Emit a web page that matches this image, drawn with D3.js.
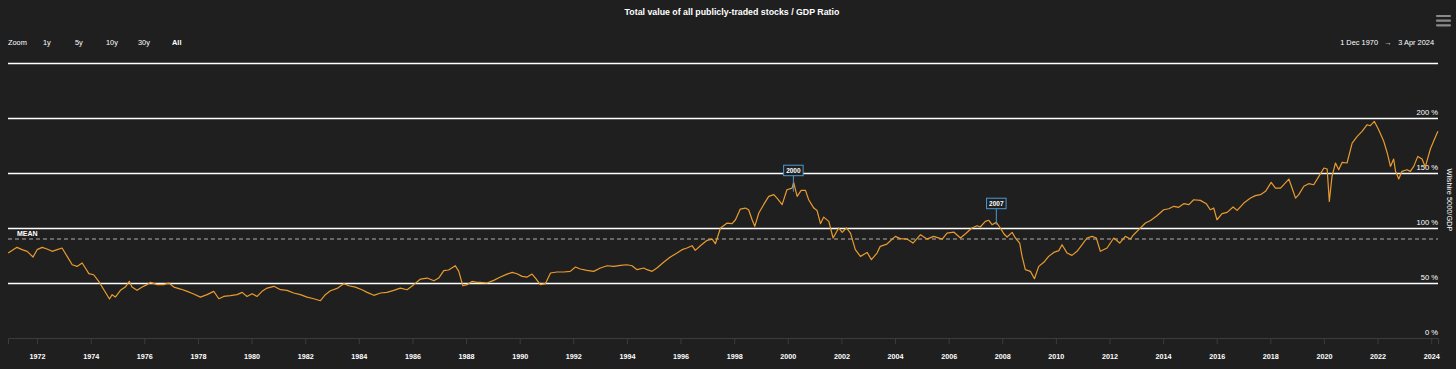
<!DOCTYPE html>
<html>
<head>
<meta charset="utf-8">
<script src="https://cdn.jsdelivr.net/npm/d3@7"></script>
<style>
  html, body { margin: 0; padding: 0; background: #1f1f1f; }
  svg { display: block; font-family: "Liberation Sans", Arial, sans-serif; }
</style>
</head>
<body>
<div id="chart"></div>
<script>
// data (decimal years, ratio in %)
var years = [
  1970.92, 1971.25, 1971.44, 1971.63, 1971.85, 1972.00, 1972.19, 1972.37, 1972.56, 1972.75,
  1972.93, 1973.12, 1973.31, 1973.49, 1973.68, 1973.80, 1973.93, 1974.11, 1974.30, 1974.49,
  1974.70, 1974.80, 1974.92, 1975.11, 1975.29, 1975.44, 1975.54, 1975.73, 1975.92, 1976.10,
  1976.23, 1976.48, 1976.72, 1976.91, 1977.10, 1977.35, 1977.60, 1977.84, 1978.09, 1978.34,
  1978.59, 1978.78, 1978.96, 1979.21, 1979.46, 1979.65, 1979.83, 1980.02, 1980.21, 1980.39,
  1980.58, 1980.83, 1981.08, 1981.32, 1981.57, 1981.82, 1982.07, 1982.32, 1982.57, 1982.75,
  1982.94, 1983.19, 1983.44, 1983.63, 1983.87, 1984.12, 1984.31, 1984.56, 1984.81, 1985.05,
  1985.30, 1985.55, 1985.80, 1986.05, 1986.30, 1986.55, 1986.80, 1986.98, 1987.17, 1987.35,
  1987.60, 1987.73, 1987.88, 1988.04, 1988.23, 1988.41,
  1988.53, 1988.78, 1989.03, 1989.28, 1989.53, 1989.72, 1989.90, 1990.09, 1990.28, 1990.46,
  1990.59, 1990.77, 1990.96, 1991.15, 1991.39, 1991.64, 1991.89, 1992.08, 1992.26, 1992.51,
  1992.76, 1993.01, 1993.26, 1993.51, 1993.76, 1994.00, 1994.19, 1994.38, 1994.63, 1994.75,
  1994.94, 1995.12, 1995.37, 1995.62, 1995.87, 1996.06, 1996.24, 1996.43, 1996.55, 1996.74,
  1996.99, 1997.18, 1997.30, 1997.49, 1997.74, 1997.92, 1998.05, 1998.23, 1998.42, 1998.54,
  1998.67, 1998.77, 1998.92, 1999.10, 1999.29, 1999.48, 1999.60, 1999.79, 1999.97, 2000.16,
  2000.22, 2000.35, 2000.50, 2000.66, 2000.78, 2000.97, 2001.09, 2001.22, 2001.34, 2001.53,
  2001.69, 2001.90, 2002.03, 2002.19, 2002.34, 2002.52, 2002.71, 2002.96, 2003.12, 2003.33,
  2003.45, 2003.70, 2004.01, 2004.20, 2004.45, 2004.67, 2004.95, 2005.19, 2005.44, 2005.76,
  2005.94, 2006.19, 2006.44,
  2006.63, 2006.87, 2007.06, 2007.18, 2007.37, 2007.50, 2007.62, 2007.78, 2007.93, 2008.06,
  2008.18, 2008.37, 2008.49, 2008.65, 2008.74, 2008.86, 2009.05, 2009.20, 2009.36, 2009.55,
  2009.73, 2009.92, 2010.11, 2010.23, 2010.42, 2010.60, 2010.79, 2010.98, 2011.16, 2011.35,
  2011.51, 2011.66, 2011.91, 2012.16, 2012.38, 2012.59, 2012.78, 2012.90, 2013.09, 2013.34,
  2013.53, 2013.77, 2014.02, 2014.21, 2014.40, 2014.58, 2014.77, 2014.96, 2015.14, 2015.39,
  2015.61, 2015.76, 2015.89, 2016.01, 2016.20, 2016.39, 2016.61, 2016.76, 2017.01, 2017.26,
  2017.44, 2017.63, 2017.82, 2018.03, 2018.19, 2018.38, 2018.69, 2018.81, 2018.94, 2019.06,
  2019.25, 2019.43, 2019.62, 2019.81, 2020.00, 2020.12, 2020.20, 2020.30, 2020.43, 2020.55,
  2020.68, 2020.86, 2021.05, 2021.24, 2021.42, 2021.61, 2021.73, 2021.88, 2022.04, 2022.23,
  2022.36, 2022.48, 2022.60, 2022.67, 2022.79, 2022.91, 2023.10, 2023.22, 2023.35, 2023.50,
  2023.66, 2023.78, 2023.97, 2024.09, 2024.25
];
var ratio = [
  77.2, 82.4, 80.3, 78.8, 73.6, 80.3, 82.4, 80.9, 78.8, 80.3,
  81.8, 74.2, 66.6, 65.1, 68.2, 63.6, 58.5, 57.5, 51.5, 43.9,
  35.4, 39.4, 37.2, 43.3, 46.3, 51.5, 46.3, 43.3, 46.3, 48.5,
  50.6, 48.5, 48.5, 50.0, 46.3, 44.5, 42.4, 40.0, 37.2, 39.4,
  42.4, 35.7, 37.8, 38.5, 39.4, 41.5, 37.8, 40.3, 37.8, 42.4,
  45.4, 47.0, 43.9, 43.3, 40.9, 39.4, 37.2, 35.7, 33.9, 39.4,
  43.0, 45.1, 49.4, 47.5, 46.3, 43.9, 41.5, 38.8, 40.9, 41.5,
  43.3, 45.4, 43.9, 48.5, 53.6, 54.5, 52.1, 54.5, 61.2, 61.8,
  65.7, 60.6, 47.5, 48.5, 51.5, 50.6,
  50.6, 50.0, 52.4, 55.4, 58.1, 59.7, 58.4, 56.0, 55.4, 58.1,
  54.5, 48.5, 49.4, 59.1, 60.0, 60.0, 60.6, 64.5, 62.7, 61.5,
  60.6, 63.6, 65.7, 65.1, 66.0, 66.6, 65.7, 62.1, 63.6, 62.1,
  60.6, 63.6, 68.8, 73.6, 77.2, 80.3, 81.8, 83.9, 79.7, 83.9,
  88.8, 89.9, 85.7, 100.0, 104.5, 103.9, 107.5, 117.2, 118.1, 116.6,
  107.5, 101.5, 113.6, 121.2, 128.8, 130.3, 127.2, 121.2, 134.8, 136.3,
  141.5, 128.8, 134.2, 134.2, 125.7, 118.1, 116.0, 103.9, 109.9, 106.0,
  90.9, 100.0, 96.0, 100.0, 95.4, 80.3, 74.2, 77.8, 71.2, 77.2,
  83.3, 85.4, 92.4, 90.3, 89.9, 86.3, 93.9, 89.9, 92.4, 89.9,
  95.4, 96.3, 90.9,
  94.8, 100.0, 102.1, 100.9, 106.0, 107.0, 103.0, 105.1, 100.0, 94.8,
  91.8, 96.0, 90.9, 86.3, 74.2, 62.1, 60.6, 53.9, 65.1, 68.8,
  74.2, 77.8, 79.4, 84.8, 77.2, 75.1, 78.8, 84.8, 90.9, 92.4,
  90.9, 78.8, 81.8, 90.9, 86.3, 92.4, 90.0, 93.9, 98.5, 104.5,
  106.9, 111.2, 116.6, 117.5, 119.7, 118.8, 122.1, 121.2, 125.7, 125.1,
  122.1, 116.6, 118.1, 107.5, 113.0, 114.2, 119.1, 116.0, 122.7, 127.2,
  129.4, 130.3, 133.3, 141.5, 136.3, 136.3, 144.5, 136.3, 127.2, 130.3,
  137.9, 140.3, 139.3, 146.9, 154.5, 153.6, 124.2, 146.9, 159.1, 153.0,
  159.7, 159.1, 177.2, 183.3, 187.8, 193.9, 193.0, 196.9, 189.4, 178.8,
  168.2, 156.0, 162.7, 151.5, 144.5, 151.5, 153.0, 151.5, 156.0, 165.1,
  162.7, 155.5, 171.8, 178.8, 187.9
];

var yTicks = [0, 50, 100, 150, 200, 250];
var yLabels = [0, 50, 100, 150, 200];
var meanValue = 90;
var flagYears = [2000.21, 2007.78];
var flagValues = [133, 103];
var flagLabels = ["2000", "2007"];
var rangeButtons = ["1y", "5y", "10y", "30y", "All"];

var W = 1456, H = 369;
var plot = {left: 8, right: 1438, top: 63, bottom: 338};

function yearToDate(y) {
  var yr = Math.floor(y);
  var a = Date.UTC(yr, 0, 1), b = Date.UTC(yr + 1, 0, 1);
  return new Date(a + (y - yr) * (b - a));
}

var data = years.map(function(y, i) { return {date: yearToDate(y), value: ratio[i]}; });

var x = d3.scaleUtc()
    .domain([new Date(Date.UTC(1970, 11, 1)), new Date(Date.UTC(2024, 3, 3))])
    .range([plot.left, plot.right]);
var y = d3.scaleLinear().domain([0, 250]).range([plot.bottom, plot.top]);

var svg = d3.select("#chart").append("svg")
    .attr("width", W)
    .attr("height", H);

svg.append("rect").attr("width", W).attr("height", H).attr("fill", "#1f1f1f");

// title
svg.append("text")
    .attr("x", 732).attr("y", 15)
    .attr("text-anchor", "middle")
    .attr("fill", "#ffffff")
    .style("font-size", "8.8px")
    .style("font-weight", "bold")
    .text("Total value of all publicly-traded stocks / GDP Ratio");

// hamburger menu
[16, 20.7, 25.3].forEach(function(yy) {
  svg.append("line")
    .attr("x1", 1437).attr("x2", 1450).attr("y1", yy).attr("y2", yy)
    .attr("stroke", "#8a8a8a").attr("stroke-width", 2.2).attr("stroke-linecap", "round");
});

// range selector
svg.append("text").attr("x", 8).attr("y", 45)
    .attr("fill", "#ffffff").style("font-size", "7.4px").text("Zoom");
var btnX = [43, 75, 106, 138, 172];
rangeButtons.forEach(function(b, i) {
  svg.append("text").attr("x", btnX[i]).attr("y", 45)
    .attr("fill", "#ffffff")
    .style("font-size", "7.4px")
    .style("font-weight", b == "All" ? "bold" : "normal")
    .text(b);
});

// date range
svg.append("text").attr("x", 1378).attr("y", 44.5).attr("text-anchor", "end")
    .attr("fill", "#ffffff").style("font-size", "7.4px").text("1 Dec 1970");
svg.append("text").attr("x", 1388).attr("y", 44.5).attr("text-anchor", "middle")
    .attr("fill", "#ffffff").style("font-size", "7.4px").text("\u2192");
svg.append("text").attr("x", 1434).attr("y", 44.5).attr("text-anchor", "end")
    .attr("fill", "#ffffff").style("font-size", "7.4px").text("3 Apr 2024");

// grid lines
svg.selectAll(".grid")
    .data(yTicks.filter(function(d) { return d > 0; }))
    .enter().append("line")
    .attr("class", "grid")
    .attr("x1", plot.left).attr("x2", plot.right)
    .attr("y1", function(d) { return Math.round(y(d)) + 0.5; })
    .attr("y2", function(d) { return Math.round(y(d)) + 0.5; })
    .attr("stroke", "#ffffff")
    .attr("stroke-width", 1.4);

// y labels
svg.selectAll(".ylab")
    .data(yLabels)
    .enter().append("text")
    .attr("class", "ylab")
    .attr("x", plot.right)
    .attr("y", function(d) { return y(d) - 3; })
    .attr("text-anchor", "end")
    .attr("fill", "#ffffff")
    .style("font-size", "7.6px")
    .text(function(d) { return d + " %"; });

// axis title
svg.append("text")
    .attr("transform", "translate(1447,200) rotate(90)")
    .attr("text-anchor", "middle")
    .attr("fill", "#ffffff")
    .style("font-size", "7.4px")
    .text("Wilshire 5000/GDP");

// x axis
var xAxis = svg.append("g")
    .attr("transform", "translate(0," + plot.bottom + ")")
    .call(d3.axisBottom(x)
      .ticks(d3.utcYear.every(2))
      .tickFormat(d3.utcFormat("%Y"))
      .tickSize(6)
      .tickPadding(10));
xAxis.select(".domain").attr("stroke", "#3c3c3c");
xAxis.selectAll(".tick line").attr("stroke", "#3c3c3c");
xAxis.selectAll(".tick text")
    .attr("fill", "#ffffff")
    .style("font-size", "7.2px")
    .style("font-weight", "bold")
    .style("font-family", "'Liberation Sans', Arial, sans-serif");

// mean line
svg.append("line")
    .attr("x1", plot.left).attr("x2", plot.right)
    .attr("y1", y(meanValue)).attr("y2", y(meanValue))
    .attr("stroke", "#b0b0b0")
    .attr("stroke-width", 1)
    .attr("stroke-dasharray", "4,3");
svg.append("text")
    .attr("x", 17).attr("y", y(meanValue) - 3.5)
    .attr("fill", "#ffffff")
    .style("font-size", "7px")
    .style("font-weight", "bold")
    .text("MEAN");

// the series
var line = d3.line()
    .x(function(d) { return x(d.date); })
    .y(function(d) { return y(d.value); });

svg.append("path")
    .datum(data)
    .attr("fill", "none")
    .attr("stroke", "#e99b2d")
    .attr("stroke-width", 1.2)
    .attr("stroke-linejoin", "round")
    .attr("d", line);

// flags
flagYears.forEach(function(fy, i) {
  var fx = x(yearToDate(fy));
  var py = y(flagValues[i]);
  var boxH = 10.5, boxW = 19.5;
  var top = py - 16 - boxH;
  svg.append("line")
    .attr("x1", fx).attr("x2", fx)
    .attr("y1", top + boxH).attr("y2", py)
    .attr("stroke", "#4a9ad4").attr("stroke-width", 1);
  svg.append("rect")
    .attr("x", fx - boxW / 2).attr("y", top)
    .attr("width", boxW).attr("height", boxH)
    .attr("fill", "#1f1f1f")
    .attr("stroke", "#4a9ad4").attr("stroke-width", 1);
  svg.append("text")
    .attr("x", fx).attr("y", top + boxH / 2 + 2.3)
    .attr("text-anchor", "middle")
    .attr("fill", "#ffffff")
    .style("font-size", "6.5px")
    .style("font-weight", "bold")
    .text(flagLabels[i]);
});
</script>
</body>
</html>
